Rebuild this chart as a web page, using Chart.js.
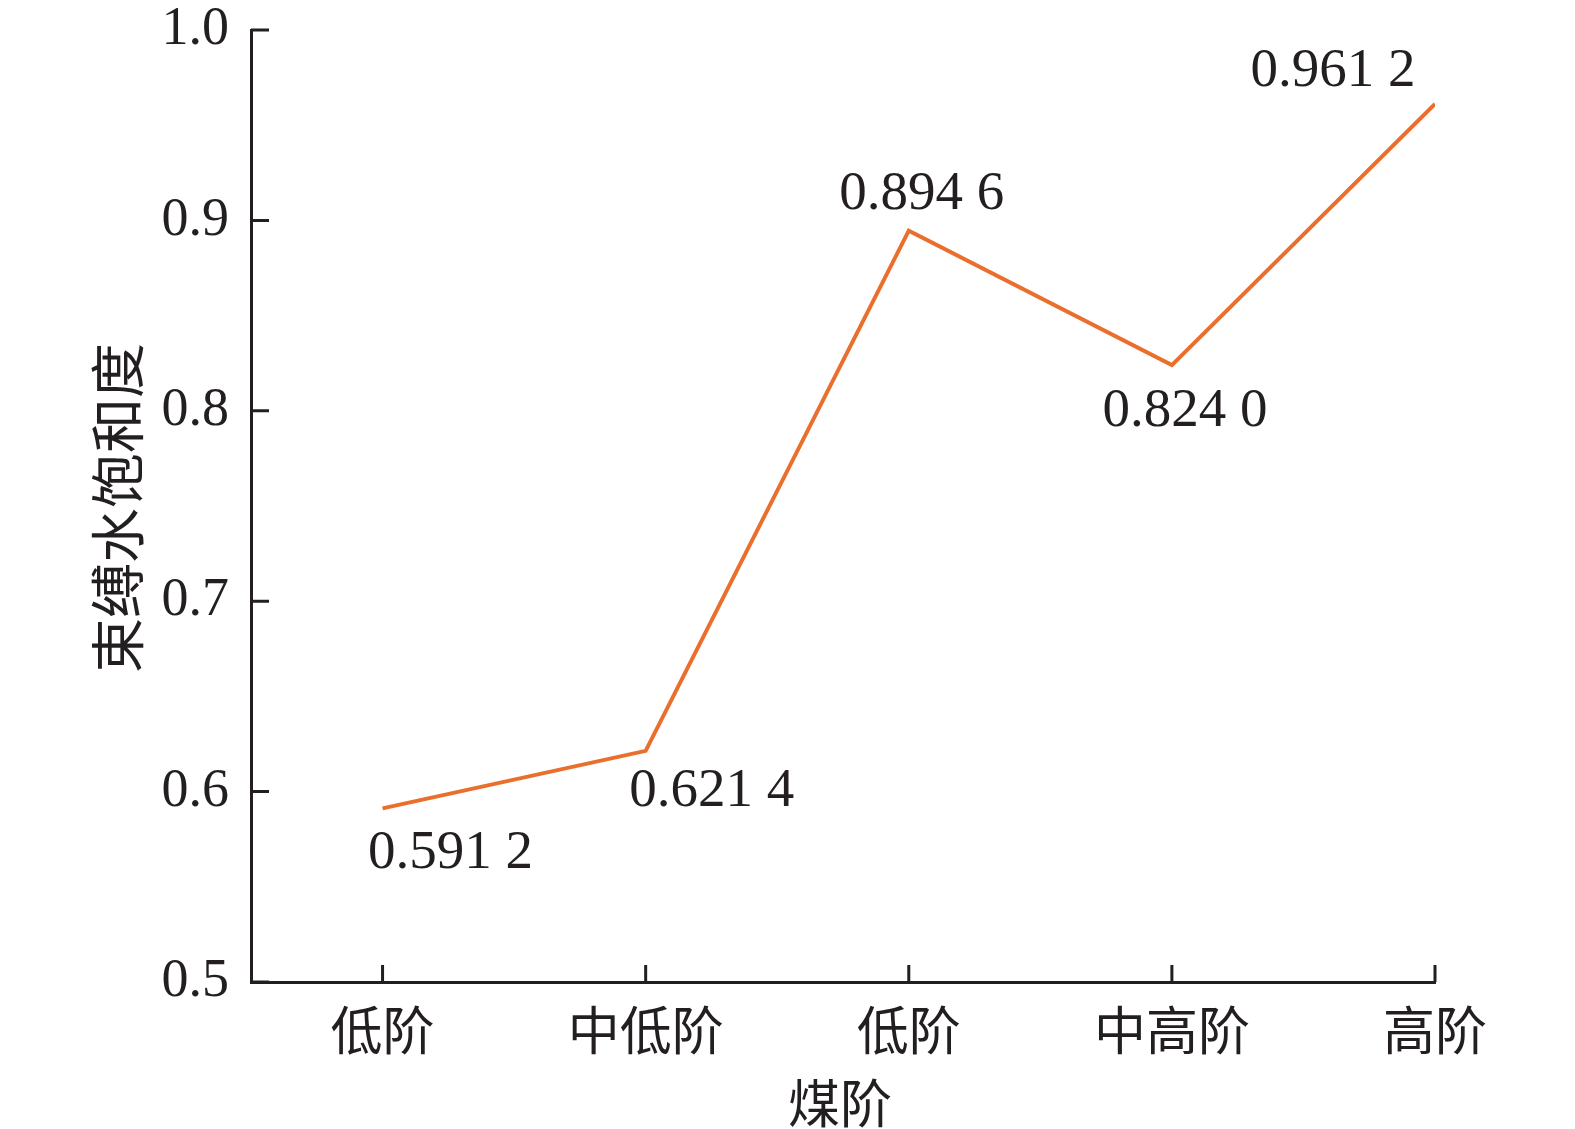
<!DOCTYPE html>
<html>
<head>
<meta charset="utf-8">
<script src="https://cdn.jsdelivr.net/npm/chart.js@4"></script>
<style>
  html, body { margin: 0; padding: 0; background: #fff; }
  canvas { display: block; }
</style>
</head>
<body>
<canvas id="chart" width="1575" height="1129"></canvas>
<script>
// coal rank categories and bound water saturation
const categories = ['低阶', '中低阶', '低阶', '中高阶', '高阶'];
const saturation = [0.5912, 0.6214, 0.8946, 0.8240, 0.9612];
const yTicks = [0.5, 0.6, 0.7, 0.8, 0.9, 1.0];

// where each value label sits relative to its point
const labelOffsets = [[68, 45], [66, 41], [13, -36], [13, 46], [-102, -32]];

const ink = '#231f20';
const serif = '"Liberation Serif", "Noto Sans CJK SC", serif';
const cjk = '"Noto Sans CJK SC", sans-serif';

function fmt(v) {
    const s = v.toFixed(4);
    return s.slice(0, 5) + ' ' + s.slice(5);
}

// ticks pointing into the plot, labels, axis titles
const extras = {
    id: 'extras',
    afterDraw(chart) {
        const ctx = chart.ctx;
        const xs = chart.scales.x, ys = chart.scales.y;
        const a = chart.chartArea;
        ctx.save();
        ctx.strokeStyle = ink;
        ctx.lineWidth = 3;
        ctx.beginPath();
        yTicks.forEach(t => {
            const y = ys.getPixelForValue(t);
            ctx.moveTo(a.left, y);
            ctx.lineTo(a.left + 18, y);
        });
        categories.forEach((c, i) => {
            const x = xs.getPixelForValue(i);
            ctx.moveTo(x, a.bottom);
            ctx.lineTo(x, a.bottom - 17);
        });
        ctx.stroke();

        const meta = chart.getDatasetMeta(0);
        ctx.fillStyle = ink;
        ctx.font = '55px ' + serif;
        ctx.textAlign = 'center';
        ctx.textBaseline = 'middle';
        meta.data.forEach((pt, i) => {
            const [dx, dy] = labelOffsets[i];
            ctx.fillText(fmt(saturation[i]), pt.x + dx, pt.y + dy);
        });

        ctx.font = '52px ' + cjk;
        ctx.fillText('煤阶', (a.left + a.right) / 2 - 3, 1103);
        ctx.translate(117, (a.top + a.bottom) / 2 + 2);
        ctx.rotate(-Math.PI / 2);
        ctx.font = '55px ' + cjk;
        ctx.fillText('束缚水饱和度', 0, 0);
        ctx.restore();
    }
};

new Chart(document.getElementById('chart'), {
    type: 'line',
    data: {
        datasets: [{
            data: saturation.map((v, i) => ({ x: i, y: v })),
            borderColor: '#ea6f2d',
            borderWidth: 4,
            pointRadius: 0,
            tension: 0,
            fill: false
        }]
    },
    options: {
        responsive: false,
        animation: false,
        layout: { padding: { top: 30, right: 140, left: 0, bottom: 0 } },
        plugins: { legend: { display: false }, tooltip: { enabled: false } },
        scales: {
            x: {
                type: 'linear',
                min: -0.5,
                max: 4,
                afterBuildTicks: s => { s.ticks = categories.map((c, i) => ({ value: i })); },
                afterFit: s => { s.height = 147; s.paddingLeft = 0; s.paddingRight = 0; },
                grid: { display: false },
                border: { display: true, color: ink, width: 3 },
                ticks: {
                    callback: v => categories[v],
                    color: ink,
                    font: { family: cjk, size: 52 },
                    padding: 9,
                    maxRotation: 0,
                    autoSkip: false
                }
            },
            y: {
                min: 0.5,
                max: 1.0,
                afterBuildTicks: s => { s.ticks = yTicks.map(v => ({ value: v })); },
                afterFit: s => { s.width = 251; s.paddingTop = 0; s.paddingBottom = 0; },
                grid: { display: false },
                border: { display: true, color: ink, width: 3 },
                ticks: {
                    callback: v => v.toFixed(1),
                    color: ink,
                    font: { family: serif, size: 54 },
                    padding: 14
                }
            }
        }
    },
    plugins: [extras]
});
</script>
</body>
</html>
